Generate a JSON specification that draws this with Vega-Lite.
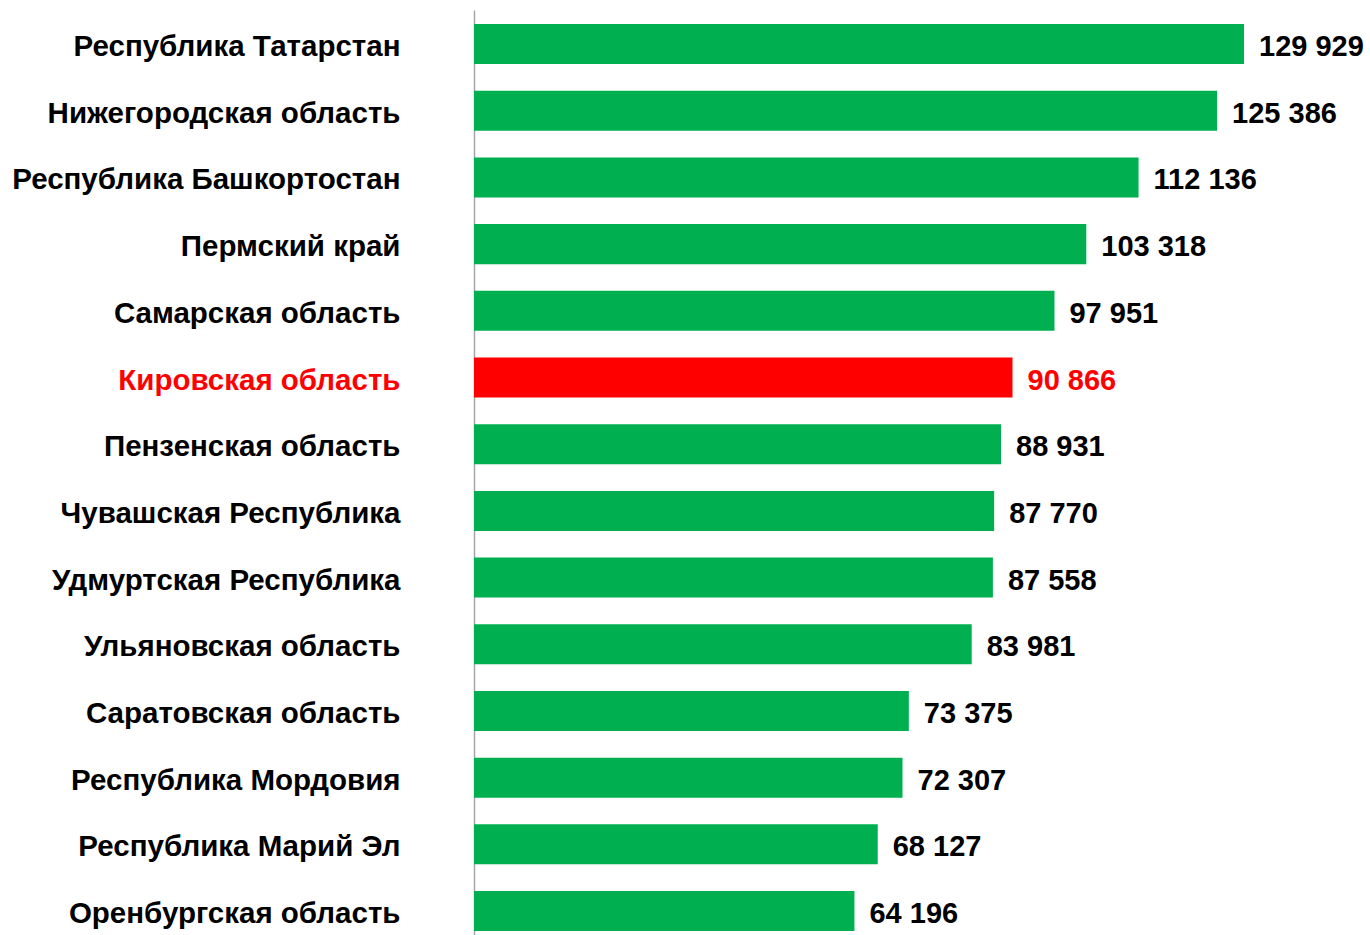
{
  "$schema": "https://vega.github.io/schema/vega-lite/v6.json",
  "autosize": "none",
  "padding": {"left": 474, "top": 10, "right": 0, "bottom": 0},
  "width": 896,
  "height": 925,
  "background": "white",
  "data": {"values": [
    {"region": "Республика Татарстан", "value": 129929},
    {"region": "Нижегородская область", "value": 125386},
    {"region": "Республика Башкортостан", "value": 112136},
    {"region": "Пермский край", "value": 103318},
    {"region": "Самарская область", "value": 97951},
    {"region": "Кировская область", "value": 90866},
    {"region": "Пензенская область", "value": 88931},
    {"region": "Чувашская Республика", "value": 87770},
    {"region": "Удмуртская Республика", "value": 87558},
    {"region": "Ульяновская область", "value": 83981},
    {"region": "Саратовская область", "value": 73375},
    {"region": "Республика Мордовия", "value": 72307},
    {"region": "Республика Марий Эл", "value": 68127},
    {"region": "Оренбургская область", "value": 64196}
  ]},
  "encoding": {
    "y": {
      "field": "region", "type": "nominal", "sort": null,
      "scale": {"paddingInner": 0.4, "paddingOuter": 0.135, "align": 0.78},
      "axis": {
        "title": null, "ticks": false, "domain": true,
        "domainColor": "#a6a6a6", "domainWidth": 1.5,
        "labelFont": "Liberation Sans", "labelFontWeight": "bold", "labelFontSize": 29.5,
        "labelPadding": 74, "labelLimit": 480, "labelOffset": 3,
        "labelColor": {"condition": {"test": "datum.value === 'Кировская область'", "value": "#ff0000"}, "value": "#000000"}
      }
    },
    "x": {
      "field": "value", "type": "quantitative",
      "scale": {"domain": [0, 151190], "nice": false, "zero": true},
      "axis": null
    }
  },
  "layer": [
    {
      "mark": {"type": "bar"},
      "encoding": {
        "color": {"condition": {"test": "datum.region === 'Кировская область'", "value": "#ff0000"}, "value": "#00b050"}
      }
    },
    {
      "mark": {"type": "text", "align": "left", "baseline": "middle", "dx": 15, "dy": 3, "font": "Liberation Sans", "fontWeight": "bold", "fontSize": 29},
      "encoding": {
        "text": {"field": "value", "type": "quantitative", "format": ",d"},
        "color": {"condition": {"test": "datum.region === 'Кировская область'", "value": "#ff0000"}, "value": "#000000"}
      }
    }
  ],
  "config": {
    "view": {"stroke": null},
    "locale": {"number": {"decimal": ",", "thousands": " ", "grouping": [3], "currency": ["", " ₽"]}}
  }
}
